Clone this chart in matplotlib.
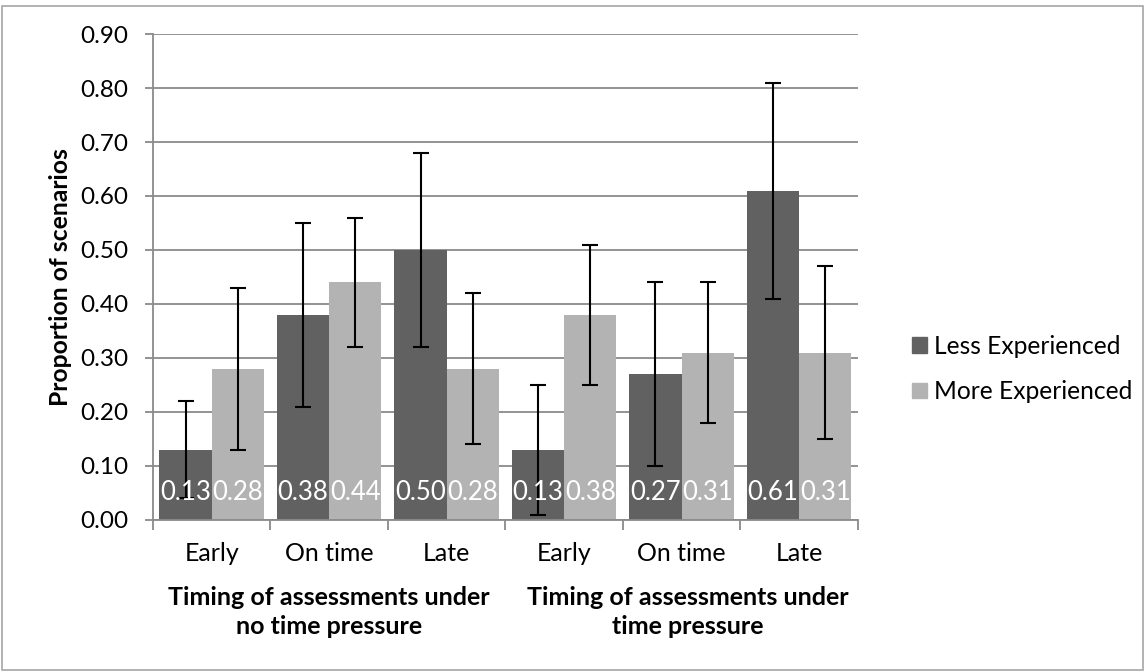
import numpy as np
import matplotlib.pyplot as plt
from matplotlib.patches import Patch, Rectangle

plt.rcParams['font.family'] = ['Lato', 'DejaVu Sans']

# timing categories, two blocks of three
categories = ["Early", "On time", "Late", "Early", "On time", "Late"]
groups = ["Timing of assessments under\nno time pressure",
          "Timing of assessments under\ntime pressure"]

less_exp = [0.13, 0.38, 0.50, 0.13, 0.27, 0.61]
more_exp = [0.28, 0.44, 0.28, 0.38, 0.31, 0.31]
less_err = [0.09, 0.17, 0.18, 0.12, 0.17, 0.20]
more_err = [0.15, 0.12, 0.14, 0.13, 0.13, 0.16]

dark = "#616161"
light = "#b3b3b3"
axis_grey = "#8a8a8a"

fig = plt.figure(figsize=(11.45, 6.72), dpi=100)
ax = fig.add_axes([0.1336, 0.2262, 0.6156, 0.7232])

x = np.arange(len(categories))
w = 0.445
ax.bar(x - w / 2, less_exp, w, color=dark, zorder=2)
ax.bar(x + w / 2, more_exp, w, color=light, zorder=2)
ax.errorbar(x - w / 2, less_exp, yerr=less_err, fmt="none", ecolor="black",
            elinewidth=1.5, capsize=6, capthick=1.5, zorder=3)
ax.errorbar(x + w / 2, more_exp, yerr=more_err, fmt="none", ecolor="black",
            elinewidth=1.5, capsize=6, capthick=1.5, zorder=3)

# value labels sit near the base of each bar
for xi, v in zip(x - w / 2, less_exp):
    ax.text(xi, 0.05, f"{v:.2f}", color="white", ha="center", va="center",
            fontsize=18.5, zorder=4)
for xi, v in zip(x + w / 2, more_exp):
    ax.text(xi, 0.05, f"{v:.2f}", color="white", ha="center", va="center",
            fontsize=18.5, zorder=4)

ax.set_xlim(-0.5, len(categories) - 0.5)
ax.set_ylim(0, 0.9)
ax.set_yticks(np.arange(0, 0.91, 0.1))
ax.set_yticklabels([f"{t:.2f}" for t in np.arange(0, 0.91, 0.1)], fontsize=17.5)
ax.yaxis.grid(True, color=axis_grey, linewidth=1.3, zorder=0)
ax.tick_params(axis="y", length=6, color=axis_grey, width=1.3, pad=12)

# category ticks at boundaries, labels centred under each pair
ax.set_xticks(np.arange(-0.5, len(categories) + 0.5, 1))
ax.set_xticklabels([])
ax.set_xticks(x, minor=True)
ax.set_xticklabels(categories, minor=True, fontsize=18)
ax.tick_params(axis="x", which="major", length=7, color=axis_grey, width=1.3)
ax.tick_params(axis="x", which="minor", length=0, pad=16)

for s in ["top", "right"]:
    ax.spines[s].set_visible(False)
for s in ["left", "bottom"]:
    ax.spines[s].set_color(axis_grey)
    ax.spines[s].set_linewidth(1.3)

ax.set_ylabel("Proportion of scenarios", fontsize=17.8, fontweight="bold", labelpad=6)

for gi, label in enumerate(groups):
    ax.text(1 + 3 * gi + 0.05 * gi, -0.135, label, transform=ax.get_xaxis_transform(),
            ha="center", va="top", fontsize=18, fontweight="bold", linespacing=1.35)

handles = [Patch(color=dark, label="Less Experienced"),
           Patch(color=light, label="More Experienced")]
fig.legend(handles=handles, loc="center left", bbox_to_anchor=(0.7965, 0.451),
           frameon=False, fontsize=17.7, handlelength=0.6, handleheight=0.6,
           handletextpad=0.3, labelspacing=0.9, borderpad=0, borderaxespad=0)

fig.patches.append(Rectangle((0.002, 0.003), 0.996, 0.988, transform=fig.transFigure,
                             fill=False, edgecolor="#a6a6a6", linewidth=1.2))

fig.savefig("out.png", dpi=100)
